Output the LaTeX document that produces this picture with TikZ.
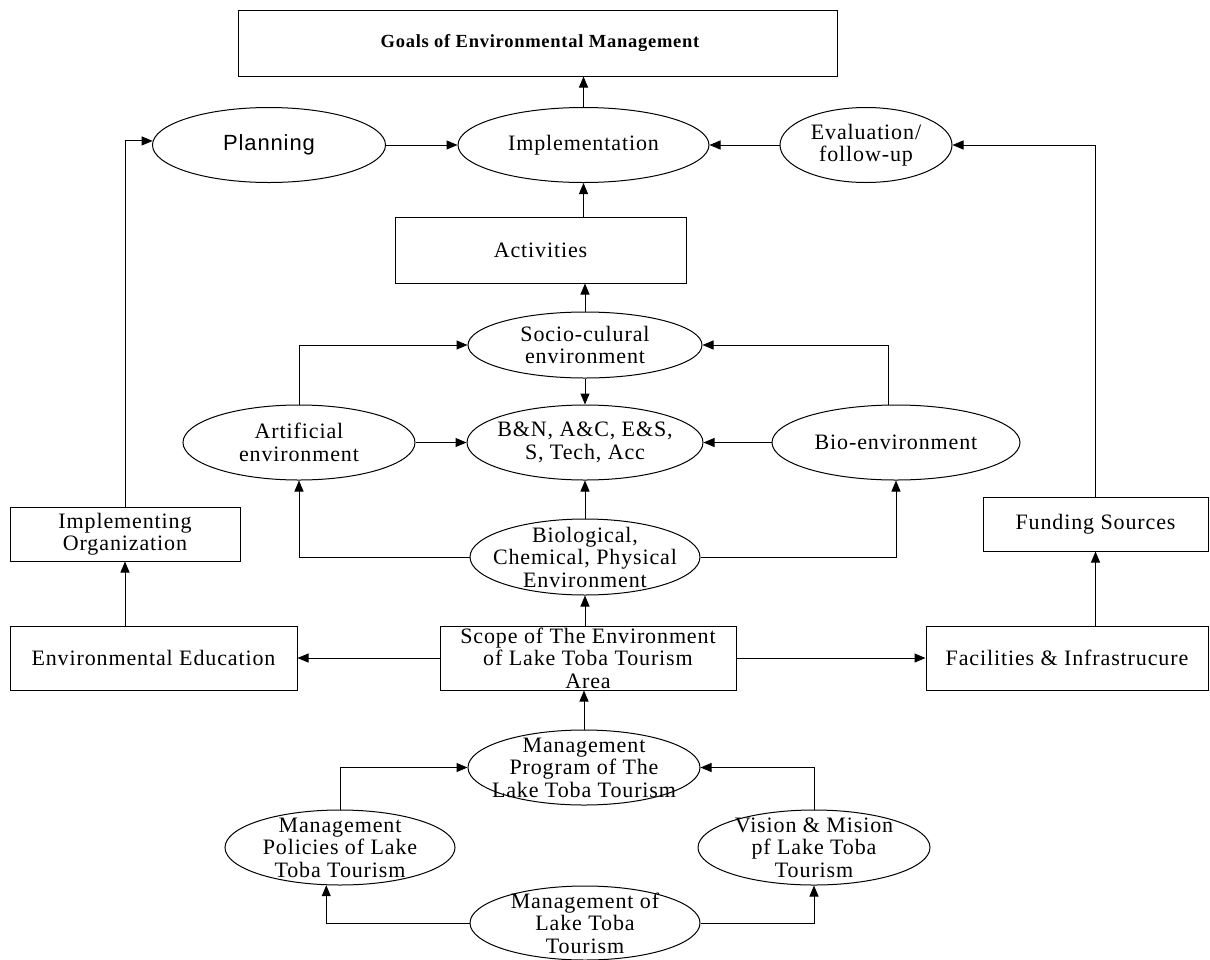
\documentclass[tikz,border=0pt]{standalone}
\usepackage{fontspec}
\setmainfont{Liberation Serif}[LetterSpace=4]
\newfontfamily\sansf{Liberation Sans}[LetterSpace=4]
\usetikzlibrary{shapes.geometric,arrows.meta}
\begin{document}
\begin{tikzpicture}[x=1pt,y=-1pt,
  every node/.style={font=\fontsize{22}{22.5}\selectfont, align=center, inner sep=0pt},
  box/.style={draw, line width=1pt, rectangle},
  ell/.style={draw, line width=1pt, ellipse},
  conn/.style={line width=1pt, -{Triangle[length=11pt,width=9pt]}}]
\useasboundingbox (0,0) rectangle (1210,959);
% top row
\node[box, minimum width=599pt, minimum height=66pt] (goals) at (537.5,43) {};
\node[font=\fontsize{18.5}{20}\selectfont\bfseries] (goals-t) at (540,43) {Goals of Environmental Management};
\node[ell, minimum width=233pt, minimum height=75pt] (plan) at (269,145) {};
\node (plan-t) at (plan) {\sansf Planning};
\node[ell, minimum width=251pt, minimum height=75pt] (impl) at (583.5,145) {};
\node (impl-t) at (impl) {Implementation};
\node[ell, minimum width=172pt, minimum height=75pt] (eval) at (866,145) {};
\node (eval-t) at (eval) {Evaluation/\\follow-up};
\node[box, minimum width=291pt, minimum height=66pt] (act) at (540.5,250) {Activities};
% middle
\node[ell, minimum width=234pt, minimum height=66pt] (socio) at (585,345) {};
\node (socio-t) at (socio) {Socio-culural\\environment};
\node[ell, minimum width=236pt, minimum height=75pt] (bn) at (585,442.5) {};
\node (bn-t) at (bn) {B\&N, A\&C, E\&S,\\S, Tech, Acc};
\node[ell, minimum width=232pt, minimum height=75pt] (art) at (299,442.5) {};
\node (art-t) at (art) {Artificial\\environment};
\node[ell, minimum width=248pt, minimum height=75pt] (bio) at (896,442.5) {};
\node (bio-t) at (bio) {Bio-environment};
\node[ell, minimum width=230pt, minimum height=76pt] (bcp) at (585,557) {};
\node (bcp-t) at (bcp) {Biological,\\Chemical, Physical\\Environment};
% boxes row
\node[box, minimum width=296pt, minimum height=64pt] (scope) at (588,658) {Scope of The Environment\\of Lake Toba Tourism\\Area};
\node[box, minimum width=287pt, minimum height=64pt] (edu) at (153.5,658) {Environmental Education};
\node[box, minimum width=282pt, minimum height=64pt] (fac) at (1067,658) {Facilities \& Infrastrucure};
\node[box, minimum width=230pt, minimum height=54pt] (org) at (125,534) {Implementing\\Organization};
\node[box, minimum width=225pt, minimum height=54pt] (fund) at (1095.5,524) {Funding Sources};
% bottom
\node[ell, minimum width=232pt, minimum height=75pt] (prog) at (584,767.5) {};
\node (prog-t) at (prog) {Management\\Program of The\\Lake Toba Tourism};
\node[ell, minimum width=230pt, minimum height=75pt] (pol) at (340,847.5) {};
\node (pol-t) at (pol) {Management\\Policies of Lake\\Toba Tourism};
\node[ell, minimum width=232pt, minimum height=75pt] (vis) at (814,847.5) {};
\node (vis-t) at (vis) {Vision \& Mision\\pf Lake Toba\\Tourism};
\node[ell, minimum width=230pt, minimum height=74pt] (mgmt) at (585,923) {};
\node (mgmt-t) at (mgmt) {Management of\\Lake Toba\\Tourism};
% helper coordinates
\coordinate (bioup) at (888,442.5);
% connectors
\draw[conn] (impl.north) -- (impl.north |- goals.south);
\draw[conn] (plan.east) -- (impl.west);
\draw[conn] (eval.west) -- (impl.east);
\draw[conn] (act.north -| impl.south) -- (impl.south);
\draw[conn] (socio.north) -- (socio.north |- act.south);
\draw[conn] (socio.south) -- (socio.south |- bn.north);
\draw[conn] (art.east) -- (bn.west);
\draw[conn] (bio.west) -- (bn.east);
\draw[conn] (art.north) |- (socio.west);
\draw[conn] (bio.north -| bioup) |- (socio.east);
\draw[conn] (bcp.north) -- (bcp.north |- bn.south);
\draw[conn] (bcp.west) -| (art.south);
\draw[conn] (bcp.east) -| (bio.south);
\draw[conn] (scope.north -| bcp.south) -- (bcp.south);
\draw[conn] (scope.west) -- (edu.east);
\draw[conn] (scope.east) -- (scope.east -| fac.west);
\draw[conn] (edu.north -| org.south) -- (org.south);
\draw[conn] (org.north) |- (plan.178);
\draw[conn] (fac.north -| fund.south) -- (fund.south);
\draw[conn] (fund.north) |- (eval.east);
\draw[conn] (prog.north) -- (prog.north |- scope.south);
\draw[conn] (pol.north) |- (prog.west);
\draw[conn] (vis.north) |- (prog.east);
\draw[conn] (mgmt.west) -| (pol.250);
\draw[conn] (mgmt.east) -| (vis.south);
\end{tikzpicture}
\end{document}
